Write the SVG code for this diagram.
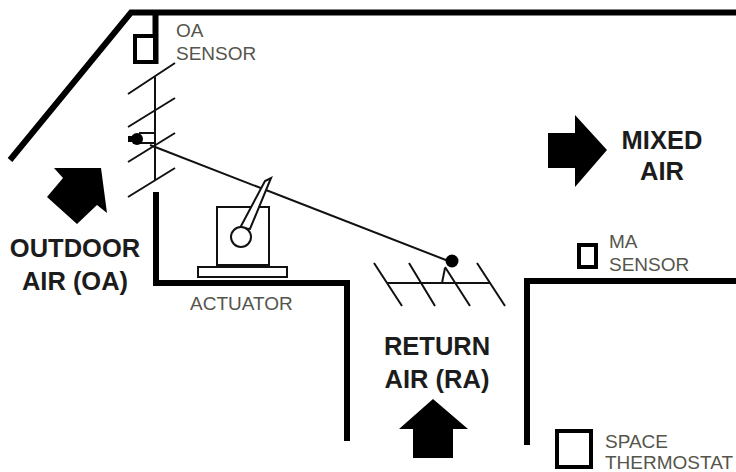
<svg xmlns="http://www.w3.org/2000/svg" width="736" height="472" viewBox="0 0 736 472">
<style>
text{font-family:"Liberation Sans",Arial,sans-serif}
.big{font-size:25.500px;font-weight:bold;fill:#1c1c1c;text-anchor:middle}
.small{font-size:19px;fill:#55554c}
.duct{fill:none;stroke:#000;stroke-width:6;stroke-linejoin:miter}
.thin{fill:none;stroke:#111;stroke-width:2}
.med{fill:#fff;stroke:#111;stroke-width:2}
.box{fill:#fff;stroke:#000;stroke-width:4}
</style>
<rect width="736" height="472" fill="#fff"/>
<g id="connectors">
<path class="duct" d="M10 160L131 12.500H736"/>
<path class="duct" d="M155.500 12V64"/>
<path class="duct" d="M156 192V283H347V441"/>
<path class="duct" d="M736 281H527V445"/>
<path class="thin" d="M155 77V180M128 94L175 63M128 127L175 98M128 162L175 133M128 197L175 168"/>
<path class="thin" d="M150 145L451 262"/>
<path class="thin" d="M139 133H155M139 143H155"/>
<path class="thin" d="M374 263L402 306M409 263L435 306M445 267L470 306M477 263L505 306M387 283H490"/>
<path class="thin" d="M442 283L445 268"/>
</g>
<g id="oa-sensor"><rect x="135" y="36" width="20" height="26" class="box"/>
<text class="small" x="176" y="37">OA</text><text class="small" x="176" y="60">SENSOR</text></g>
<g id="oa-damper-pivot"><circle cx="137" cy="139" r="6" fill="#000"/><path d="M128 136h10v6h-10z" fill="#000"/></g>
<g id="actuator">
<rect x="217" y="207" width="52" height="58" class="med"/>
<rect x="198" y="267" width="89" height="10" class="med"/>
<path class="med" d="M240 228L265 181L271 178L250 229Z"/>
<circle cx="241" cy="237" r="10" class="med"/>
<text class="small" x="190" y="310">ACTUATOR</text></g>
<g id="ra-damper-pivot"><circle cx="452" cy="261" r="6.500" fill="#000"/></g>
<g id="ma-sensor"><rect x="579" y="245" width="17" height="22" class="box"/>
<text class="small" x="609" y="248">MA</text><text class="small" x="609" y="271">SENSOR</text></g>
<g id="space-thermostat"><rect x="557" y="431" width="34" height="36" class="box"/>
<text class="small" x="605" y="448">SPACE</text><text class="small" x="605" y="469">THERMOSTAT</text></g>
<g id="oa-label"><path d="M54 168H101L107 213L97 205L77 224L47 197L63 178Z" fill="#000"/>
<text class="big" x="75" y="257">OUTDOOR</text><text class="big" x="75" y="290">AIR (OA)</text></g>
<g id="ma-label"><path d="M548 133H575V115L607 150L575 187V168H548Z" fill="#000"/>
<text class="big" x="662" y="149">MIXED</text><text class="big" x="662" y="180">AIR</text></g>
<g id="ra-label"><path d="M399 429L433 399L468 429H453V458H413V429Z" fill="#000"/>
<text class="big" x="437" y="355">RETURN</text><text class="big" x="437" y="388">AIR (RA)</text></g>
</svg>
